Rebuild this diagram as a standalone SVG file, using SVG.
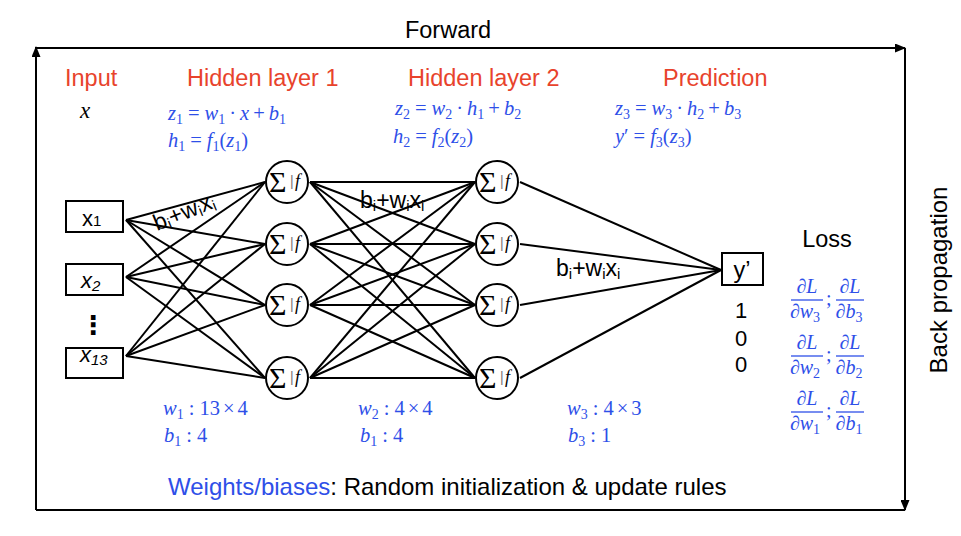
<svg xmlns="http://www.w3.org/2000/svg" width="961" height="536" viewBox="0 0 961 536">
<defs>
<marker id="ah" markerWidth="11" markerHeight="9" refX="10" refY="4.5" orient="auto" markerUnits="userSpaceOnUse"><path d="M0,0 L11,4.5 L0,9 z" fill="#000"/></marker>
<style>
.hdr{font-family:"Liberation Sans",Arial,Helvetica,sans-serif;font-size:23.5px;fill:#E8432C;}
.lbl{font-family:"Liberation Sans",Arial,Helvetica,sans-serif;font-size:23.5px;fill:#000;}
.dig{font-family:"Liberation Sans",Arial,Helvetica,sans-serif;font-size:22px;fill:#000;}
.bot{font-family:"Liberation Sans",Arial,Helvetica,sans-serif;font-size:24px;fill:#000;}
.bp{font-family:"Liberation Sans",Arial,Helvetica,sans-serif;font-size:24px;fill:#000;}
.m{font-family:"Liberation Serif","Times New Roman",serif;font-size:20.5px;fill:#2E4FE8;}
.i{font-style:italic;}
.s{font-size:14px;}
.box{fill:#fff;stroke:#000;stroke-width:2;}
.node circle{fill:#fff;stroke:#000;stroke-width:2;}
.sig{font-family:"Liberation Serif","DejaVu Serif",serif;font-size:30px;fill:#000;}
.bar{font-family:"Liberation Sans",sans-serif;font-size:14px;fill:#777;}
.ff{font-family:"Liberation Serif","Times New Roman",serif;font-style:italic;font-size:18px;fill:#000;}
.conn line{stroke:#000;stroke-width:2;}
.frame line{stroke:#000;stroke-width:2;}
.el{font-family:"Liberation Sans",Arial,sans-serif;font-size:23px;fill:#000;}
.el .sb{font-size:15px;}
.inp{font-family:"Liberation Sans",Arial,sans-serif;font-size:22px;fill:#000;}
.inp .sb{font-size:15px;}
.fl{stroke:#2E4FE8;stroke-width:1.3;}
.fr{font-family:"Liberation Serif","Times New Roman",serif;font-size:20px;fill:#2E4FE8;}
.fr .s{font-size:14px;}
</style>
</defs>
<rect width="961" height="536" fill="#fff"/>

<g id="frame" class="frame">
<line x1="36" y1="48" x2="905" y2="48" marker-end="url(#ah)"/>
<line x1="905" y1="48" x2="905" y2="510" marker-end="url(#ah)"/>
<line x1="905" y1="510" x2="36" y2="510"/>
<line x1="36" y1="510" x2="36" y2="47" marker-end="url(#ah)"/>
</g>
<text class="lbl" x="448" y="38" text-anchor="middle">Forward</text>
<text class="bp" transform="translate(947,280) rotate(-90)" text-anchor="middle">Back propagation</text>

<g id="headers">
<text class="hdr" x="65" y="86">Input</text>
<text class="hdr" x="187" y="86">Hidden layer 1</text>
<text class="hdr" x="408" y="86">Hidden layer 2</text>
<text class="hdr" x="663" y="86">Prediction</text>
</g>

<g id="formulas">
<text x="80" y="118" style="font-family:'Liberation Serif','Times New Roman',serif;font-style:italic;font-size:23px;fill:#000">x</text>
<text class="m" x="168" y="120"><tspan class="i">z</tspan><tspan class="s" dy="4">1</tspan><tspan dy="-4" dx="5">=</tspan><tspan class="i" dx="5">w</tspan><tspan class="s" dy="4">1</tspan><tspan dy="-4" dx="4">·</tspan><tspan class="i" dx="4">x</tspan><tspan dx="4">+</tspan><tspan class="i" dx="4">b</tspan><tspan class="s" dy="4">1</tspan></text>
<text class="m" x="168" y="147"><tspan class="i">h</tspan><tspan class="s" dy="4">1</tspan><tspan dy="-4" dx="5">=</tspan><tspan class="i" dx="5">f</tspan><tspan class="s" dy="4">1</tspan><tspan dy="-4">(</tspan><tspan class="i">z</tspan><tspan class="s" dy="4">1</tspan><tspan dy="-4">)</tspan></text>
<text class="m" x="395" y="115"><tspan class="i">z</tspan><tspan class="s" dy="4">2</tspan><tspan dy="-4" dx="5">=</tspan><tspan class="i" dx="5">w</tspan><tspan class="s" dy="4">2</tspan><tspan dy="-4" dx="4">·</tspan><tspan class="i" dx="4">h</tspan><tspan class="s" dy="4">1</tspan><tspan dy="-4" dx="4">+</tspan><tspan class="i" dx="4">b</tspan><tspan class="s" dy="4">2</tspan></text>
<text class="m" x="393" y="143"><tspan class="i">h</tspan><tspan class="s" dy="4">2</tspan><tspan dy="-4" dx="5">=</tspan><tspan class="i" dx="5">f</tspan><tspan class="s" dy="4">2</tspan><tspan dy="-4">(</tspan><tspan class="i">z</tspan><tspan class="s" dy="4">2</tspan><tspan dy="-4">)</tspan></text>
<text class="m" x="615" y="115"><tspan class="i">z</tspan><tspan class="s" dy="4">3</tspan><tspan dy="-4" dx="5">=</tspan><tspan class="i" dx="5">w</tspan><tspan class="s" dy="4">3</tspan><tspan dy="-4" dx="4">·</tspan><tspan class="i" dx="4">h</tspan><tspan class="s" dy="4">2</tspan><tspan dy="-4" dx="4">+</tspan><tspan class="i" dx="4">b</tspan><tspan class="s" dy="4">3</tspan></text>
<text class="m" x="615" y="143"><tspan class="i">y</tspan><tspan>′</tspan><tspan dx="5">=</tspan><tspan class="i" dx="5">f</tspan><tspan class="s" dy="4">3</tspan><tspan dy="-4">(</tspan><tspan class="i">z</tspan><tspan class="s" dy="4">3</tspan><tspan dy="-4">)</tspan></text>
</g>

<g id="connectors" class="conn">
<line x1="126" y1="220" x2="265" y2="182"/>
<line x1="126" y1="220" x2="265" y2="244"/>
<line x1="126" y1="220" x2="265" y2="305"/>
<line x1="126" y1="220" x2="265" y2="378"/>
<line x1="126" y1="277" x2="265" y2="182"/>
<line x1="126" y1="277" x2="265" y2="244"/>
<line x1="126" y1="277" x2="265" y2="305"/>
<line x1="126" y1="277" x2="265" y2="378"/>
<line x1="126" y1="356" x2="265" y2="182"/>
<line x1="126" y1="356" x2="265" y2="244"/>
<line x1="126" y1="356" x2="265" y2="305"/>
<line x1="126" y1="356" x2="265" y2="378"/>
<line x1="310" y1="182" x2="475" y2="182"/>
<line x1="310" y1="182" x2="475" y2="244"/>
<line x1="310" y1="182" x2="475" y2="305"/>
<line x1="310" y1="182" x2="475" y2="378"/>
<line x1="310" y1="244" x2="475" y2="182"/>
<line x1="310" y1="244" x2="475" y2="244"/>
<line x1="310" y1="244" x2="475" y2="305"/>
<line x1="310" y1="244" x2="475" y2="378"/>
<line x1="310" y1="305" x2="475" y2="182"/>
<line x1="310" y1="305" x2="475" y2="244"/>
<line x1="310" y1="305" x2="475" y2="305"/>
<line x1="310" y1="305" x2="475" y2="378"/>
<line x1="310" y1="378" x2="475" y2="182"/>
<line x1="310" y1="378" x2="475" y2="244"/>
<line x1="310" y1="378" x2="475" y2="305"/>
<line x1="310" y1="378" x2="475" y2="378"/>
<line x1="520" y1="182" x2="721" y2="270"/>
<line x1="520" y1="244" x2="721" y2="270"/>
<line x1="520" y1="305" x2="721" y2="270"/>
<line x1="520" y1="378" x2="721" y2="270"/>
</g>

<g id="edge-labels">
<text class="el" transform="translate(157,231) rotate(-22)">b<tspan class="sb" dy="3">i</tspan><tspan dy="-3">+w</tspan><tspan class="sb" dy="3">i</tspan><tspan dy="-3">x</tspan><tspan class="sb" dy="3">i</tspan></text>
<text class="el" x="360" y="208">b<tspan class="sb" dy="3">i</tspan><tspan dy="-3">+w</tspan><tspan class="sb" dy="3">i</tspan><tspan dy="-3">x</tspan><tspan class="sb" dy="3">i</tspan></text>
<text class="el" x="556" y="276">b<tspan class="sb" dy="3">i</tspan><tspan dy="-3">+w</tspan><tspan class="sb" dy="3">i</tspan><tspan dy="-3">x</tspan><tspan class="sb" dy="3">i</tspan></text>
</g>

<g id="in1"><rect class="box" x="66" y="201" width="57" height="31"/><text class="inp" x="82" y="226">x<tspan class="sb">1</tspan></text></g>
<g id="in2"><rect class="box" x="66" y="264" width="57" height="31"/><text class="inp" x="81" y="288" font-style="italic">x<tspan class="sb" dy="3">2</tspan></text></g>
<text id="dots" x="93" y="334" text-anchor="middle" style="font-family:'DejaVu Sans',sans-serif;font-weight:bold;font-size:26px">⋮</text>
<g id="in13"><rect class="box" x="66" y="348" width="57" height="30"/><text class="inp" x="80" y="362" font-style="italic">x<tspan class="sb" dy="3">13</tspan></text></g>

<g id="h1n1" class="node" transform="translate(287,182)"><circle r="21"/><text class="sig" x="-18" y="10">Σ</text><text class="bar" x="3" y="4">|</text><text class="ff" x="8" y="5">f</text></g>
<g id="h1n2" class="node" transform="translate(287,244)"><circle r="21"/><text class="sig" x="-18" y="10">Σ</text><text class="bar" x="3" y="4">|</text><text class="ff" x="8" y="5">f</text></g>
<g id="h1n3" class="node" transform="translate(287,305)"><circle r="21"/><text class="sig" x="-18" y="10">Σ</text><text class="bar" x="3" y="4">|</text><text class="ff" x="8" y="5">f</text></g>
<g id="h1n4" class="node" transform="translate(287,378)"><circle r="21"/><text class="sig" x="-18" y="10">Σ</text><text class="bar" x="3" y="4">|</text><text class="ff" x="8" y="5">f</text></g>
<g id="h2n1" class="node" transform="translate(497,182)"><circle r="21"/><text class="sig" x="-18" y="10">Σ</text><text class="bar" x="3" y="4">|</text><text class="ff" x="8" y="5">f</text></g>
<g id="h2n2" class="node" transform="translate(497,244)"><circle r="21"/><text class="sig" x="-18" y="10">Σ</text><text class="bar" x="3" y="4">|</text><text class="ff" x="8" y="5">f</text></g>
<g id="h2n3" class="node" transform="translate(497,305)"><circle r="21"/><text class="sig" x="-18" y="10">Σ</text><text class="bar" x="3" y="4">|</text><text class="ff" x="8" y="5">f</text></g>
<g id="h2n4" class="node" transform="translate(497,378)"><circle r="21"/><text class="sig" x="-18" y="10">Σ</text><text class="bar" x="3" y="4">|</text><text class="ff" x="8" y="5">f</text></g>

<g id="output"><rect class="box" x="722" y="253" width="41" height="32"/><text class="lbl" x="742" y="278" text-anchor="middle">y’</text></g>
<g id="target">
<text class="dig" x="741" y="318" text-anchor="middle">1</text>
<text class="dig" x="741" y="346" text-anchor="middle">0</text>
<text class="dig" x="741" y="372" text-anchor="middle">0</text>
</g>

<g id="loss">
<text class="lbl" x="827" y="247" text-anchor="middle">Loss</text>
<g class="fr">
<text x="807" y="293" text-anchor="middle" class="i">∂L</text>
<line class="fl" x1="791" y1="300" x2="823" y2="300"/>
<text x="805" y="318" text-anchor="middle"><tspan class="i">∂w</tspan><tspan class="s" dy="4">3</tspan></text>
<text x="826" y="305">;</text>
<text x="850" y="293" text-anchor="middle" class="i">∂L</text>
<line class="fl" x1="836" y1="300" x2="864" y2="300"/>
<text x="849" y="318" text-anchor="middle"><tspan class="i">∂b</tspan><tspan class="s" dy="4">3</tspan></text>

<text x="807" y="349" text-anchor="middle" class="i">∂L</text>
<line class="fl" x1="791" y1="356" x2="823" y2="356"/>
<text x="805" y="374" text-anchor="middle"><tspan class="i">∂w</tspan><tspan class="s" dy="4">2</tspan></text>
<text x="826" y="361">;</text>
<text x="850" y="349" text-anchor="middle" class="i">∂L</text>
<line class="fl" x1="836" y1="356" x2="864" y2="356"/>
<text x="849" y="374" text-anchor="middle"><tspan class="i">∂b</tspan><tspan class="s" dy="4">2</tspan></text>

<text x="807" y="405" text-anchor="middle" class="i">∂L</text>
<line class="fl" x1="791" y1="412" x2="823" y2="412"/>
<text x="805" y="430" text-anchor="middle"><tspan class="i">∂w</tspan><tspan class="s" dy="4">1</tspan></text>
<text x="826" y="417">;</text>
<text x="850" y="405" text-anchor="middle" class="i">∂L</text>
<line class="fl" x1="836" y1="412" x2="864" y2="412"/>
<text x="849" y="430" text-anchor="middle"><tspan class="i">∂b</tspan><tspan class="s" dy="4">1</tspan></text>
</g>
</g>

<g id="weights">
<text class="m" x="163" y="415"><tspan class="i">w</tspan><tspan class="s" dy="4">1</tspan><tspan dy="-4" dx="5">:</tspan><tspan dx="5">13</tspan><tspan dx="3">×</tspan><tspan dx="3">4</tspan></text>
<text class="m" x="164" y="442"><tspan class="i">b</tspan><tspan class="s" dy="4">1</tspan><tspan dy="-4" dx="5">:</tspan><tspan dx="5">4</tspan></text>
<text class="m" x="358" y="415"><tspan class="i">w</tspan><tspan class="s" dy="4">2</tspan><tspan dy="-4" dx="5">:</tspan><tspan dx="5">4</tspan><tspan dx="3">×</tspan><tspan dx="3">4</tspan></text>
<text class="m" x="360" y="442"><tspan class="i">b</tspan><tspan class="s" dy="4">1</tspan><tspan dy="-4" dx="5">:</tspan><tspan dx="5">4</tspan></text>
<text class="m" x="567" y="415"><tspan class="i">w</tspan><tspan class="s" dy="4">3</tspan><tspan dy="-4" dx="5">:</tspan><tspan dx="5">4</tspan><tspan dx="3">×</tspan><tspan dx="3">3</tspan></text>
<text class="m" x="568" y="442"><tspan class="i">b</tspan><tspan class="s" dy="4">3</tspan><tspan dy="-4" dx="5">:</tspan><tspan dx="5">1</tspan></text>
</g>

<text class="bot" x="168" y="495"><tspan fill="#2E4FE8">Weights/biases</tspan>: Random initialization &amp; update rules</text>
</svg>
